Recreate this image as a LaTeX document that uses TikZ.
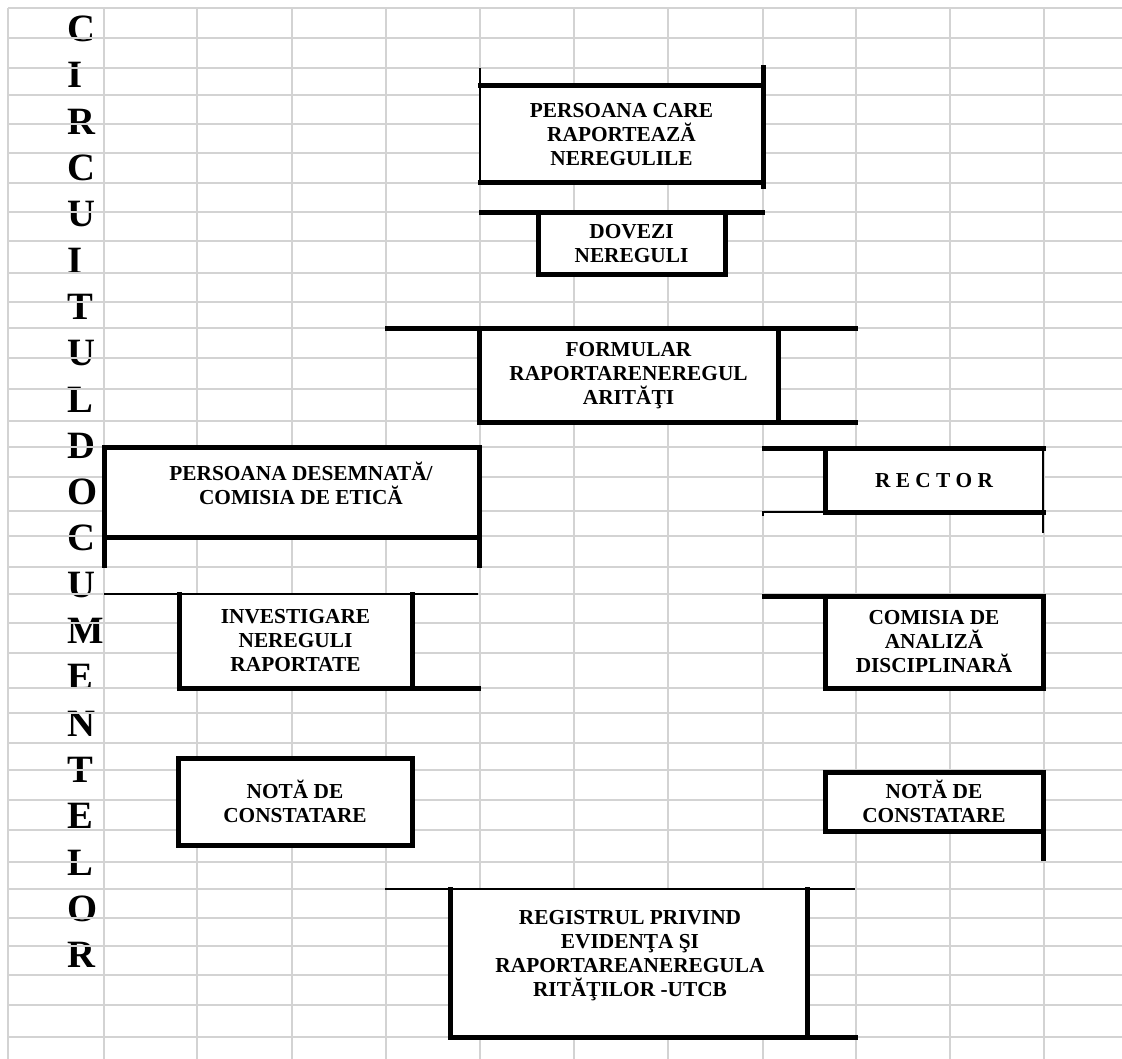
\documentclass[tikz,border=0pt]{standalone}
\usepackage{fontspec}
\setmainfont{Liberation Serif}
\usepackage{tikz}
\definecolor{grila}{RGB}{211,211,211}
\newcommand{\textcasuta}{\bfseries\fontsize{16}{18}\selectfont}
\newcommand{\textlitera}{\bfseries\fontsize{29}{32}\selectfont}

\begin{document}
\begin{tikzpicture}[x=0.75pt,y=-0.75pt]
\tikzstyle{box}=[draw=black,line width=3.75pt,fill=white,inner sep=0pt,outer sep=0pt,align=center,font=\textcasuta]
\tikzstyle{cellbox}=[fill=white,inner sep=0pt,outer sep=0pt,align=center,font=\textcasuta]
\tikzstyle{boxtext}=[inner sep=0pt,align=center,font=\textcasuta]
\tikzstyle{thickedge}=[line width=3.75pt,line cap=rect]
\tikzstyle{thinedge}=[line width=1.9pt]
\tikzstyle{gridline}=[draw=grila,line width=1.2pt]
\tikzstyle{letter}=[anchor=west,inner sep=0pt,font=\textlitera]

\useasboundingbox (0,0) rectangle (1122,1059);

% titlul pe verticala
\foreach \ch [count=\i from 0] in {C,I,R,C,U,I,T,U,L,D,O,C,U,M,E,N,T,E,L,O,R}
  \node[letter] (lit\i) at (67,29+46.3*\i) {\ch};

% grila foii de calcul
\foreach \x in {8,104,197,292,386,480,574,668,763,856,950,1044}
  \draw[gridline] (\x,8) -- (\x,1059);
\foreach \y in {8,38,68,95,124,153,183,212,241,273,302,328,358,389,421,447,477,511,536,567,594,623,653,688,713,743,770,800,830,862,889,918,946,975,1005,1037}
  \draw[gridline] (8,\y) -- (1122,\y);

% casutele
\node [cellbox,minimum width=212.25pt,minimum height=72.75pt] (care) at(621.5,134.5) {PERSOANA CARE\\RAPORTEAZĂ\\NEREGULILE};
\node [box,minimum width=140.25pt,minimum height=46.5pt] (dovezi) at(631.5,244) {DOVEZI\\NEREGULI};
\node [box,minimum width=224.25pt,minimum height=70.5pt] (formular) at(628.5,376) {FORMULAR\\RAPORTARENEREGUL\\ARITĂŢI};
\node [box,minimum width=281.25pt,minimum height=66.75pt] (desemnata) at(291.5,492.5) {};
\node [boxtext] (desemnatatext) at(301,483.5) {PERSOANA DESEMNATĂ/\\COMISIA DE ETICĂ};
\node [cellbox,minimum width=174.75pt,minimum height=70.5pt] (investigare) at(295.5,641) {INVESTIGARE\\NEREGULI\\RAPORTATE};
\node [box,minimum width=175.5pt,minimum height=65.25pt] (notastanga) at(295,801.5) {NOTĂ DE\\CONSTATARE};
\node [cellbox,minimum width=163.5pt,minimum height=47.25pt] (rector) at(934,480.5) {R E C T O R};
\node [box,minimum width=163.5pt,minimum height=69pt] (comisia) at(934,642) {COMISIA DE\\ANALIZĂ\\DISCIPLINARĂ};
\node [box,minimum width=163.5pt,minimum height=44.25pt] (notadreapta) at(934,801.5) {NOTĂ DE\\CONSTATARE};
\node [cellbox,minimum width=267.75pt,minimum height=111pt] (registru) at(628.5,963) {};
\node [boxtext] (registrutext) at(630,956) {REGISTRUL PRIVIND\\EVIDENŢA ŞI\\RAPORTAREANEREGULA\\RITĂŢILOR -UTCB};

% laturi si prelungiri
\draw[thickedge] (care.north west) -- (care.north east);
\draw[thickedge] (care.south west) -- (care.south east);
\draw[thinedge] (480,68) -- (care.south west);
\draw[thickedge] (763,68) -- (763,187);
\draw[thickedge] (481,213) -- (762,213);
\draw[thickedge] (387,329) -- (855,329);
\draw[thickedge] (formular.south east) -- (855,423);
\draw[thickedge] (desemnata.south west) -- (104,565);
\draw[thickedge] (desemnata.south east) -- (479,565);
\draw[thinedge] (104,594) -- (478,594);
\draw[thickedge] (investigare.north west) -- (investigare.south west) -- (478,688);
\draw[thickedge] (investigare.north east) -- (investigare.south east);
\draw[thickedge] (764,449) -- (rector.north east);
\draw[thickedge] (rector.north west) -- (rector.south west) -- (rector.south east);
\draw[thinedge] (rector.north east) -- (1043,533);
\draw[thinedge] (763,516) -- (763,512) -- (rector.south west);
\draw[thickedge] (764,596) -- (comisia.north west);
\draw[thickedge] (notadreapta.south east) -- (1043,858);
\draw[thinedge] (385,889) -- (855,889);
\draw[thickedge] (registru.north west) -- (registru.south west) -- (855,1037);
\draw[thickedge] (registru.north east) -- (registru.south east);
\end{tikzpicture}
\end{document}
